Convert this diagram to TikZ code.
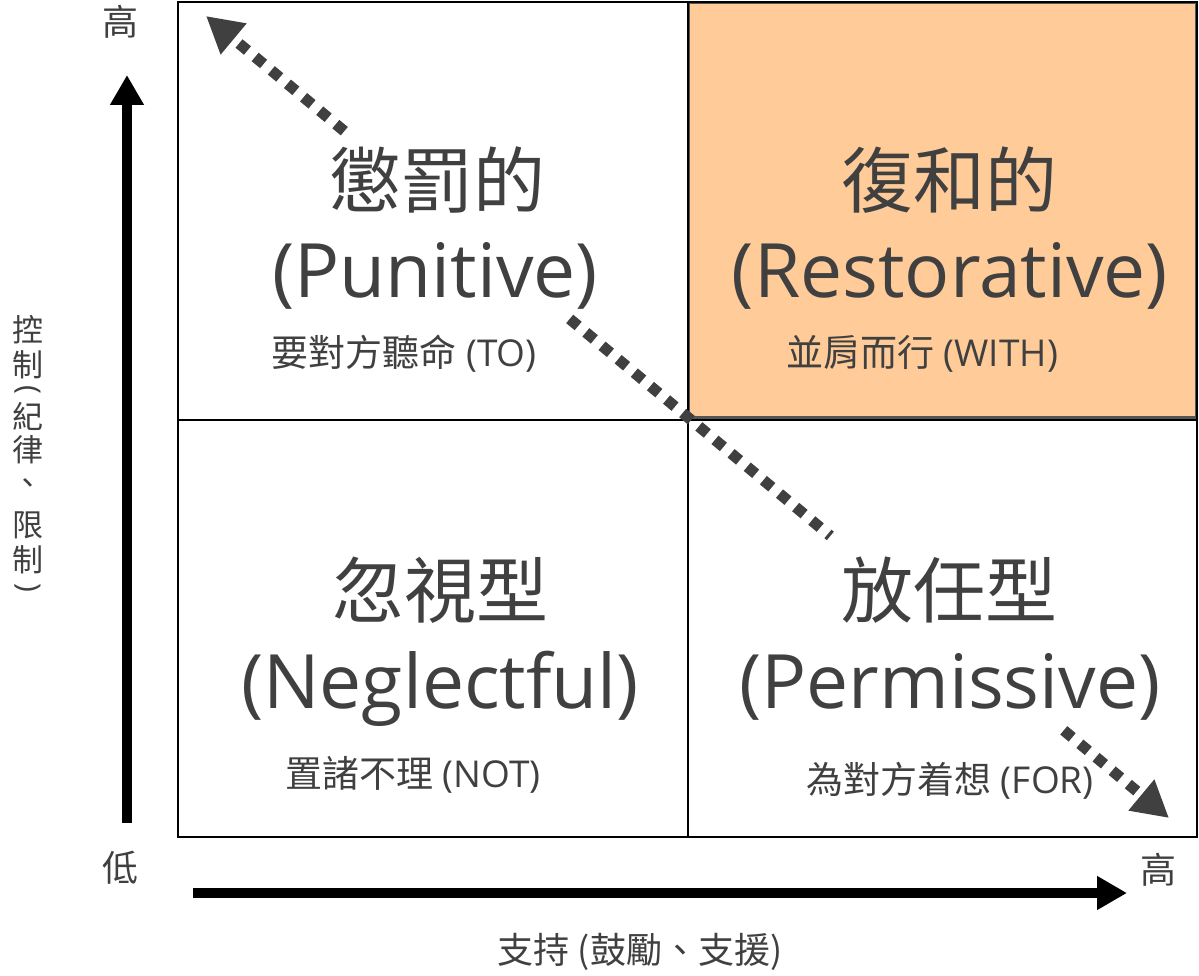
\documentclass[tikz,border=0pt]{standalone}
\usepackage{fontspec}
\setmainfont{Open Sans}
\newfontfamily\cjk{Noto Sans CJK TC}
\usetikzlibrary{arrows.meta,calc}
\definecolor{txt}{HTML}{404040}
\definecolor{dotc}{HTML}{404040}
\definecolor{cellorange}{HTML}{FFCC99}
\definecolor{cellborder}{HTML}{555555}
\begin{document}
\begin{tikzpicture}[x=1pt,y=-1pt,
  lbl/.style={text=txt, inner sep=0pt, anchor=base},
  big/.style={lbl, font=\fontsize{72}{80}\selectfont},
  bigl/.style={lbl, font=\fontsize{75}{80}\selectfont},
  sml/.style={lbl, font=\fontsize{37}{40}\selectfont},
  axl/.style={text=txt, inner sep=0pt, font=\cjk\fontsize{36}{40}\selectfont},
  vch/.style={text=txt, inner sep=0pt, font=\cjk\fontsize{31}{34}\selectfont},
  vpar/.style={text=txt, inner sep=0pt, rotate=-90, font=\fontsize{30}{34}\selectfont},
  gridline/.style={draw=black, line width=2pt},
  dots/.style={draw=dotc, line width=11pt, dash pattern=on 11pt off 10pt},
  dtip/.style={-{Triangle[length=36pt,width=38pt]}},
  axis/.style={draw=black, line width=10pt, -{Triangle[length=30pt,width=32pt]}}
]
\useasboundingbox (0,0) rectangle (1199,976);
% highlighted cell
\filldraw[fill=cellorange, draw=cellborder, line width=3pt] (688,2.5) rectangle (1196,417);
% grid
\draw[gridline] (178,2) rectangle (1197,837);
\draw[gridline] (688,2) -- (688,837);
\draw[gridline] (178,420) -- (1197,420);

% cell texts
\node[big] (tl1) at (437,208) {\cjk 懲罰的};
\node[bigl] (tl2) at (435,298) {(Punitive)};
\node[sml] (tl3) at (404,366) {{\cjk 要對方聽命} (TO)};

\node[big] (tr1) at (949,208) {\cjk 復和的};
\node[bigl] (tr2) at (950,298) {(Restorative)};
\node[sml] (tr3) at (922,366) {{\cjk 並肩而行} (WITH)};

\node[big] (bl1) at (440,617) {\cjk 忽視型};
\node[bigl] (bl2) at (440,708) {(Neglectful)};
\node[sml] (bl3) at (413,787) {{\cjk 置諸不理} (NOT)};

\node[big] (br1) at (949,617) {\cjk 放任型};
\node[bigl] (br2) at (950,708) {(Permissive)};
\node[sml] (br3) at (950,793) {{\cjk 為對方着想} (FOR)};

% dotted diagonal
\coordinate (dA) at (206,16);
\coordinate (dB) at (1169,818);
\coordinate (s1) at ($(dA)!0.1436!(dB)$);
\coordinate (s2) at ($(dA)!0.3777!(dB)$);
\coordinate (s3) at ($(dA)!0.6483!(dB)$);
\coordinate (s4) at ($(dA)!0.8907!(dB)$);
\draw[dots, dtip] (s1) -- (dA);
\draw[dots] (s2) -- (s3);
\draw[dots, dtip] (s4) -- (dB);

% axes
\coordinate (vy0) at (127,823);
\coordinate (vy1) at (127,75);
\draw[axis] (vy0) -- (vy1);
\coordinate (hx0) at (193,893);
\coordinate (hx1) at (1127,893);
\draw[axis] (hx0) -- (hx1);

% axis labels
\node[axl] (hi1) at (120,22) {高};
\node[axl] (lo) at (120,868) {低};
\node[axl] (hi2) at (1158,870) {高};
\node[axl] (xlab) at (640,952) {支持 (鼓勵、支援)};

\node[vch] (v1) at (28,330) {控};
\node[vch] (v2) at (28,365) {制};
\node[vpar] (v3) at (28,390) {(};
\node[vch] (v4) at (28,416) {紀};
\node[vch] (v5) at (28,450) {律};
\node[vch] (v6) at (28,487) {、};
\node[vch] (v7) at (28,525) {限};
\node[vch] (v8) at (28,560) {制};
\node[vpar] (v9) at (28,588) {)};
\end{tikzpicture}
\end{document}
